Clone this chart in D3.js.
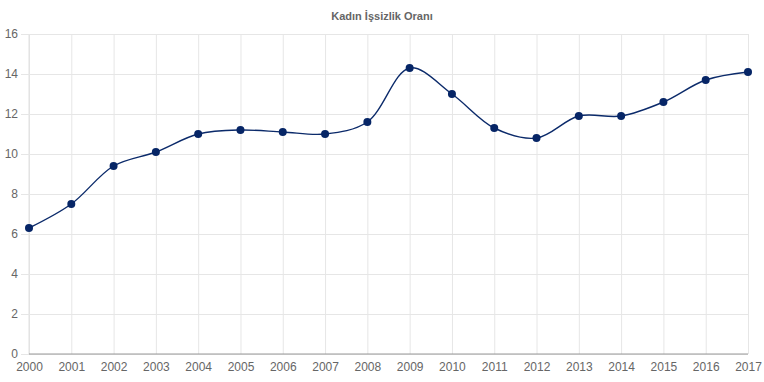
<!DOCTYPE html>
<html>
<head>
<meta charset="utf-8">
<script src="https://cdn.jsdelivr.net/npm/d3@7"></script>
<style>
  body { margin: 0; background: #fff; }
  svg { display: block; font-family: "Liberation Sans", Arial, sans-serif; }
</style>
</head>
<body>
<svg id="chart" width="764" height="382"></svg>
<script>
var years = [2000, 2001, 2002, 2003, 2004, 2005, 2006, 2007, 2008, 2009, 2010, 2011, 2012, 2013, 2014, 2015, 2016, 2017];
var rates = [6.3, 7.5, 9.4, 10.1, 11.0, 11.2, 11.1, 11.0, 11.6, 14.3, 13.0, 11.3, 10.8, 11.9, 11.9, 12.6, 13.7, 14.1];
var yTicks = [0, 2, 4, 6, 8, 10, 12, 14, 16];
var title = "Kadın İşsizlik Oranı";

var svg = d3.select("#chart"),
    margin = {top: 34, right: 16, bottom: 28, left: 29},
    width = +svg.attr("width") - margin.left - margin.right,
    height = +svg.attr("height") - margin.top - margin.bottom,
    g = svg.append("g").attr("transform", "translate(" + margin.left + "," + margin.top + ")");

var x = d3.scaleLinear().domain([2000, 2017]).range([0, width]);
var y = d3.scaleLinear().domain([0, 16]).range([height, 0]);

// title
svg.append("text")
    .attr("x", 382)
    .attr("y", 20)
    .attr("text-anchor", "middle")
    .attr("fill", "#666")
    .attr("font-size", "11px")
    .attr("font-weight", "bold")
    .text(title);

// vertical grid
g.append("g")
    .attr("transform", "translate(0," + height + ")")
    .call(d3.axisBottom(x).tickValues(years).tickSize(-height - 0).tickFormat(""))
    .call(function(s) {
      s.select(".domain").remove();
      s.selectAll("line").attr("stroke", "#e6e6e6");
    });

// horizontal grid + y labels
var yAxis = g.append("g")
    .call(d3.axisLeft(y).tickValues(yTicks).tickSize(8).tickPadding(3).tickFormat(d3.format("d")))
    .call(function(s) {
      s.select(".domain").attr("stroke", "#e0e0e0").attr("d", "M0," + height + "V0");
      s.selectAll("line").attr("stroke", "#e6e6e6");
      s.selectAll("text").attr("fill", "#666").attr("font-size", "12px");
    });
g.append("g")
    .call(d3.axisLeft(y).tickValues(yTicks).tickSize(-width).tickFormat(""))
    .call(function(s) {
      s.select(".domain").remove();
      s.selectAll("line").attr("stroke", "#e6e6e6");
    });

// x labels
g.append("g")
    .attr("transform", "translate(0," + height + ")")
    .call(d3.axisBottom(x).tickValues(years).tickSize(0).tickPadding(8).tickFormat(d3.format("d")))
    .call(function(s) {
      s.select(".domain").attr("stroke", "#999").attr("d", "M0,0H" + width);
      s.selectAll("text").attr("fill", "#666").attr("font-size", "12px");
    });

// line
var line = d3.line()
    .x(function(d, i) { return x(years[i]); })
    .y(function(d) { return y(d); })
    .curve(d3.curveCatmullRom.alpha(0.5));

g.append("path")
    .datum(rates)
    .attr("d", line)
    .attr("fill", "none")
    .attr("stroke", "#0b2a6a")
    .attr("stroke-width", 1.4);

g.selectAll(".dot")
    .data(rates)
    .enter().append("circle")
    .attr("class", "dot")
    .attr("cx", function(d, i) { return x(years[i]); })
    .attr("cy", function(d) { return y(d); })
    .attr("r", 4)
    .attr("fill", "#062566");
</script>
</body>
</html>
